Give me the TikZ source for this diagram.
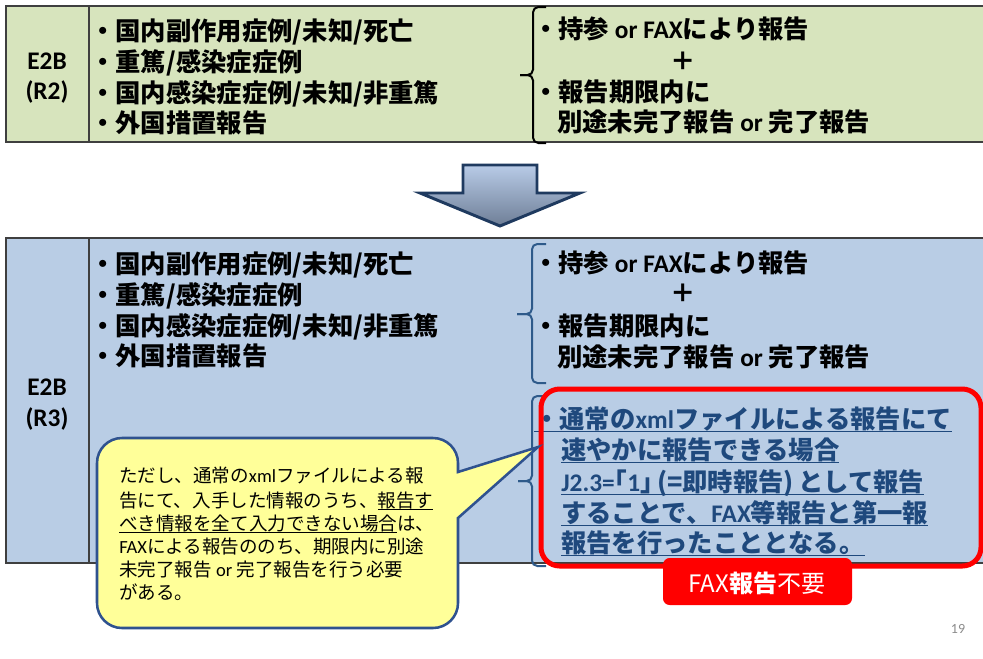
\documentclass[tikz,border=0pt]{standalone}
\usepackage{fontspec}
\setmainfont{Noto Sans CJK JP}
\newfontfamily\lat{Carlito}
\definecolor{greenfill}{HTML}{D7E4BD}
\definecolor{bluefill}{HTML}{B9CDE5}
\definecolor{tborder}{HTML}{3F3F3F}
\definecolor{bracecol}{HTML}{2E5A8A}
\definecolor{navytext}{HTML}{1F497D}
\definecolor{redbox}{HTML}{FF0000}
\definecolor{callfill}{HTML}{FFFF99}
\definecolor{callborder}{HTML}{2F528F}
\definecolor{arrowtop}{HTML}{B8CBE7}
\definecolor{arrowbot}{HTML}{6E7E96}
\definecolor{arrowborder}{HTML}{1F3A5F}
\definecolor{pagegray}{HTML}{8C8C8C}
\newcommand\myul[1]{\setbox0=\hbox{#1}\rlap{\copy0}\rule[-3.2pt]{\wd0}{1.1pt}}
\newcommand\myult[1]{\setbox0=\hbox{#1}\rlap{\copy0}\rule[-2.6pt]{\wd0}{0.9pt}}
\begin{document}
\begin{tikzpicture}[x=0.75pt,y=-0.75pt,
  tbl/.style={draw=tborder,line width=1.5pt},
  item/.style={anchor=base west,inner sep=0pt,font=\fontsize{19}{22}\selectfont\bfseries},
  label/.style={anchor=center,inner sep=0pt,font=\lat\fontsize{19}{22}\selectfont\bfseries},
  redtext/.style={anchor=base west,inner sep=0pt,text=navytext,font=\fontsize{19}{22}\selectfont\bfseries},
  calltext/.style={anchor=base west,inner sep=0pt,font=\fontsize{13.9}{16}\selectfont},
  brace/.style={line width=1.5pt,rounded corners=4pt}
]
\useasboundingbox (0,0) rectangle (983,658);
\fill[white] (0,0) rectangle (983,658);

% ---- top table ----
\fill[greenfill] (6,6) rectangle (995,142);
\draw[tbl] (995,6) -- (6,6) -- (6,142) -- (995,142);
\draw[tbl] (89,6) -- (89,142);
\node[label] (e2b1) at (47,61) {E2B};
\node[label] (r2) at (47,92) {(R2)};
\node[item] (t1) at (90,40) {・国内副作用症例/未知/死亡};
\node[item] (t2) at (90,71) {・重篤/感染症症例};
\node[item] (t3) at (90,102) {・国内感染症症例/未知/非重篤};
\node[item] (t4) at (90,132) {・外国措置報告};
\draw[brace,black] (546,7) -- (533,7) -- (533,75) -- (520,75);
\draw[brace,black] (520,75) -- (533,75) -- (533,143) -- (546,143);
\node[item] (u1) at (533,38) {・持参{\lat\ or FAX}により報告};
\node[anchor=center,inner sep=0pt,font=\fontsize{19}{22}\selectfont\bfseries] (p1) at (683,61) {＋};
\node[item] (u2) at (533,101) {・報告期限内に};
\node[item] (u3) at (557,131) {別途未完了報告{\lat\ or }完了報告};

% ---- arrow ----
\shade[top color=arrowtop,bottom color=arrowbot]
  (463,165) -- (537,165) -- (537,193) -- (580,193) -- (500,226) -- (420,193) -- (463,193) -- cycle;
\draw[arrowborder,line width=2.2pt,line join=miter]
  (463,165) -- (537,165) -- (537,193) -- (580,193) -- (500,226) -- (420,193) -- (463,193) -- cycle;

% ---- bottom table ----
\fill[bluefill] (6,238) rectangle (995,563);
\draw[tbl] (995,238) -- (6,238) -- (6,563) -- (995,563);
\draw[tbl] (89,238) -- (89,563);
\node[label] (e2b2) at (47,387) {E2B};
\node[label] (r3) at (47,419) {(R3)};
\node[item] (b1) at (90,273) {・国内副作用症例/未知/死亡};
\node[item] (b2) at (90,304) {・重篤/感染症症例};
\node[item] (b3) at (90,335) {・国内感染症症例/未知/非重篤};
\node[item] (b4) at (90,365) {・外国措置報告};
\draw[brace,bracecol] (546,244) -- (532,244) -- (532,314) -- (517,314);
\draw[brace,bracecol] (517,314) -- (532,314) -- (532,383) -- (546,383);
\node[item] (v1) at (533,272) {・持参{\lat\ or FAX}により報告};
\node[anchor=center,inner sep=0pt,font=\fontsize{19}{22}\selectfont\bfseries] (p2) at (683,293) {＋};
\node[item] (v2) at (533,335) {・報告期限内に};
\node[item] (v3) at (557,366) {別途未完了報告{\lat\ or }完了報告};
\draw[brace,bracecol] (546,396) -- (532,396) -- (532,481) -- (518,481);
\draw[brace,bracecol] (518,481) -- (532,481) -- (532,566) -- (546,566);

% red box text
\node[redtext] (w1) at (534,428) {\myul{・通常の{\lat xml}ファイルによる報告にて}};
\node[redtext] (w2) at (561,459) {\myul{速やかに報告できる場合}};
\node[redtext] (w3) at (561,491) {\myul{{\lat J2.3=}｢{\lat 1}｣\,(=即時報告)\,として報告}};
\node[redtext] (w4) at (561,522) {\myul{することで、{\lat FAX}等報告と第一報}};
\node[redtext] (w5) at (561,552) {\myul{報告を行ったこととなる。}};
\draw[redbox,line width=3.75pt,rounded corners=14pt] (541,389) rectangle (981,566);

% FAX box
\fill[redbox,rounded corners=5pt] (663,558) rectangle (852,605);
\node[anchor=center,inner sep=0pt,text=white,font=\fontsize{18}{20}\selectfont] (fax) at (757,583)
  {FAX{\bfseries 報告}不要};

% ---- callout ----
\draw[callborder,fill=callfill,line width=1.9pt,line join=miter]
  (122,438) -- (433,438) arc[start angle=-90,end angle=0,radius=25]
  -- (458,472) -- (538,447) -- (458,518)
  -- (458,603) arc[start angle=0,end angle=90,radius=25]
  -- (122,628) arc[start angle=90,end angle=180,radius=25]
  -- (97,463) arc[start angle=180,end angle=270,radius=25] -- cycle;
\node[calltext] (c1) at (119,482) {ただし、通常の{\lat xml}ファイルによる報};
\node[calltext] (c2) at (119,507) {告にて、入手した情報のうち、\myult{報告す}};
\node[calltext] (c3) at (119,530) {\myult{べき情報を全て入力できない場合}は、};
\node[calltext] (c4) at (119,553) {{\lat FAX}による報告ののち、期限内に別途};
\node[calltext] (c5) at (119,576) {未完了報告{\lat\ or }完了報告を行う必要};
\node[calltext] (c6) at (119,599) {がある。};

% page number
\node[anchor=center,inner sep=0pt,text=pagegray,font=\lat\fontsize{10.5}{12}\selectfont] (pg) at (958,629) {19};
\end{tikzpicture}
\end{document}
